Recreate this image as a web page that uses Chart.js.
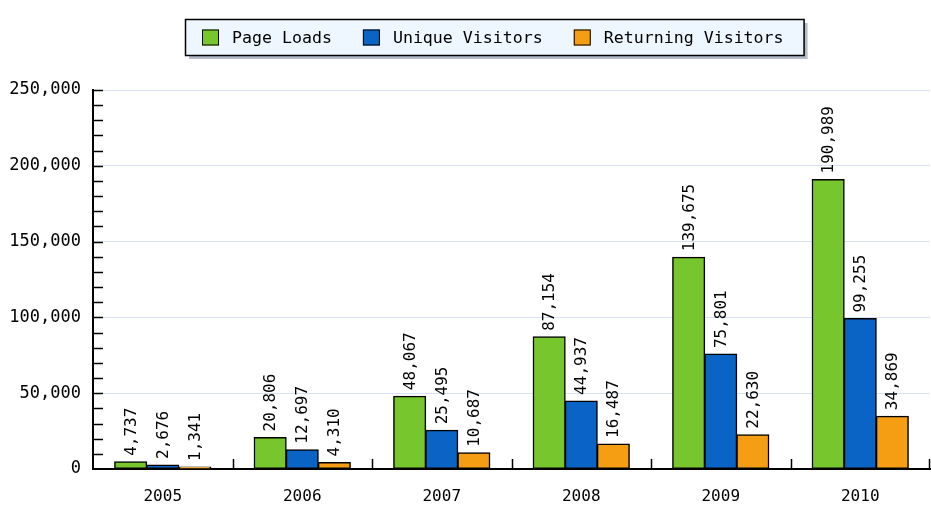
<!DOCTYPE html>
<html>
<head>
<meta charset="utf-8">
<title>Visitors by year</title>
<script src="https://cdn.jsdelivr.net/npm/chart.js@4"></script>
<style>
  html, body { margin: 0; padding: 0; background: #ffffff; }
  #wrap { width: 931px; height: 513px; }
</style>
</head>
<body>
<div id="wrap"><canvas id="visitsChart" width="931" height="513"></canvas></div>
<script>
const years = ['2005', '2006', '2007', '2008', '2009', '2010'];
const seriesNames = ['Page Loads', 'Unique Visitors', 'Returning Visitors'];
const pageLoads = [4737, 20806, 48067, 87154, 139675, 190989];
const uniqueVisitors = [2676, 12697, 25495, 44937, 75801, 99255];
const returningVisitors = [1341, 4310, 10687, 16487, 22630, 34869];
const yTicks = [0, 50000, 100000, 150000, 200000, 250000];

const colors = ['#77c62d', '#0a64c6', '#f59e14'];
const FONT = '"DejaVu Sans Mono", "Liberation Mono", monospace';

const fmt = v => v.toLocaleString('en-US');

// boxed legend at the top, like the original
const boxLegend = {
  id: 'boxLegend',
  afterDraw(chart) {
    const ctx = chart.ctx;
    ctx.save();
    ctx.font = '16.6px ' + FONT;
    const sq = 17, gapText = 13, gapItem = 31, padL = 17, padR = 20;
    const labels = chart.data.datasets.map(d => d.label);
    let w = padL + padR;
    labels.forEach((l, i) => {
      w += sq + gapText + ctx.measureText(l).width;
      if (i < labels.length - 1) w += gapItem;
    });
    const left = 185, top = 19, h = 36;
    // shadow
    ctx.fillStyle = '#b4bccb';
    ctx.fillRect(left + 4, top + 4, w, h);
    ctx.fillStyle = '#eef7ff';
    ctx.fillRect(left, top, w, h);
    ctx.strokeStyle = '#000';
    ctx.lineWidth = 1.5;
    ctx.strokeRect(left + 0.5, top + 0.5, w, h);

    let x = left + padL;
    const cy = top + h / 2 + 0.5;
    labels.forEach((l, i) => {
      ctx.fillStyle = chart.data.datasets[i].backgroundColor;
      ctx.fillRect(x, cy - 8, sq, 16);
      ctx.strokeStyle = '#000';
      ctx.lineWidth = 1;
      ctx.strokeRect(x + 0.5, cy - 8 + 0.5, sq - 1, 15);
      x += sq + gapText;
      ctx.fillStyle = '#000';
      ctx.textBaseline = 'middle';
      ctx.textAlign = 'left';
      ctx.fillText(l, x, cy + 1);
      x += ctx.measureText(l).width + gapItem;
    });
    ctx.restore();
  }
};

// value labels above each bar, rotated
const barValues = {
  id: 'barValues',
  afterDatasetsDraw(chart) {
    const ctx = chart.ctx;
    ctx.save();
    ctx.font = '16px ' + FONT;
    ctx.fillStyle = '#000';
    chart.data.datasets.forEach((ds, di) => {
      const meta = chart.getDatasetMeta(di);
      meta.data.forEach((bar, i) => {
        ctx.save();
        ctx.translate(bar.x + 1, bar.y - 6);
        ctx.rotate(-Math.PI / 2);
        ctx.textAlign = 'left';
        ctx.textBaseline = 'middle';
        ctx.fillText(fmt(ds.data[i]), 0, 0);
        ctx.restore();
      });
    });
    ctx.restore();
  }
};

// small inward tick marks on both axes
const innerTicks = {
  id: 'innerTicks',
  afterDraw(chart) {
    const ctx = chart.ctx;
    const y = chart.scales.y, x = chart.scales.x;
    const area = chart.chartArea;
    ctx.save();
    ctx.strokeStyle = '#000';
    ctx.lineWidth = 1.5;
    ctx.beginPath();
    for (let v = 10000; v <= y.max; v += 10000) {
      const py = Math.round(y.getPixelForValue(v)) + 0.5;
      ctx.moveTo(area.left, py);
      ctx.lineTo(area.left + 10, py);
    }
    for (let i = 1; i <= years.length; i++) {
      let px = i < years.length
        ? (x.getPixelForValue(i - 1) + x.getPixelForValue(i)) / 2
        : area.right - 1;
      px = Math.round(px) + 0.5;
      ctx.moveTo(px, area.bottom);
      ctx.lineTo(px, area.bottom - 10);
    }
    ctx.stroke();
    ctx.restore();
  }
};

new Chart(document.getElementById('visitsChart'), {
  type: 'bar',
  data: {
    labels: years,
    datasets: [
      { label: seriesNames[0], data: pageLoads, backgroundColor: colors[0] },
      { label: seriesNames[1], data: uniqueVisitors, backgroundColor: colors[1] },
      { label: seriesNames[2], data: returningVisitors, backgroundColor: colors[2] }
    ].map(d => Object.assign(d, {
      borderColor: '#000',
      borderWidth: 1.5,
      borderSkipped: false,
      inflateAmount: 0.5,
      categoryPercentage: 0.69,
      barPercentage: 1
    }))
  },
  options: {
    responsive: false,
    animation: false,
    devicePixelRatio: 1,
    layout: { padding: { top: 90, right: 1, left: 0, bottom: 0 } },
    plugins: {
      legend: { display: false },
      tooltip: { enabled: false }
    },
    scales: {
      x: {
        grid: { display: false, drawTicks: false },
        border: { color: '#000', width: 2 },
        ticks: { color: '#000', font: { family: FONT, size: 16 }, padding: 18 },
        afterFit(scale) { scale.height = 44; }
      },
      y: {
        min: 0,
        max: 250000,
        afterBuildTicks(scale) { scale.ticks = yTicks.map(v => ({ value: v })); },
        grid: { color: '#d6e2f2', lineWidth: 1, drawTicks: false },
        border: { color: '#000', width: 2 },
        ticks: {
          color: '#000',
          font: { family: FONT, size: 17 },
          padding: 12,
          callback: v => fmt(v)
        },
        afterFit(scale) { scale.width = 93; }
      }
    }
  },
  plugins: [boxLegend, barValues, innerTicks]
});
</script>
</body>
</html>
